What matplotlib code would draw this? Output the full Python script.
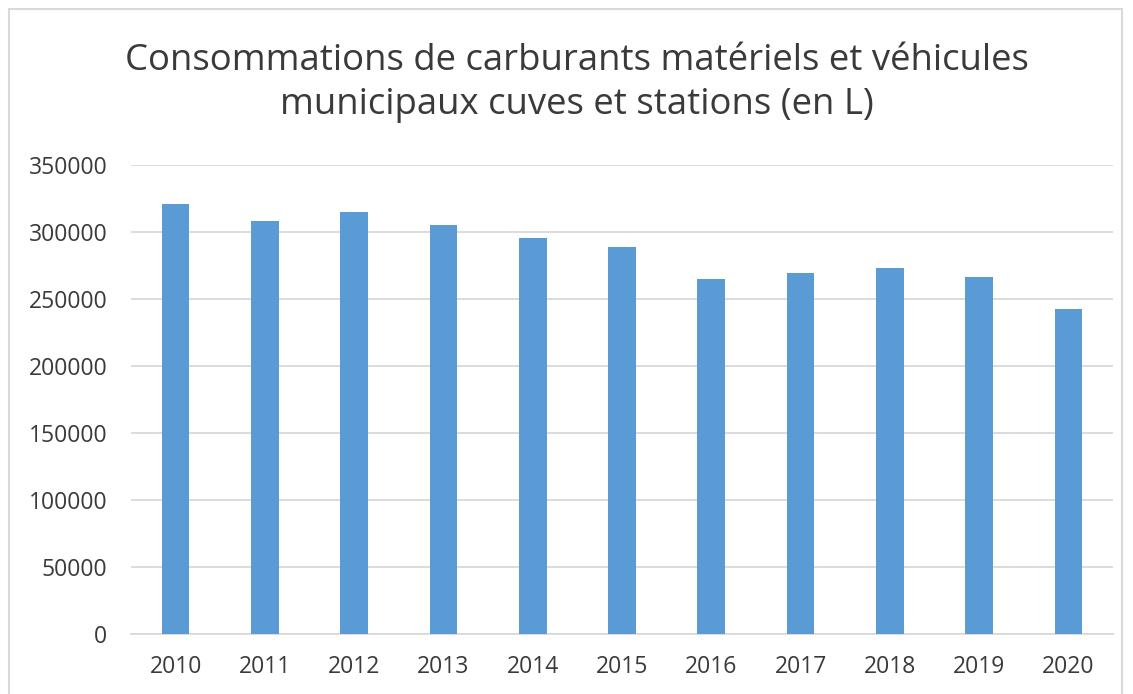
import matplotlib
matplotlib.use("Agg")
import matplotlib.pyplot as plt
from matplotlib.patches import Rectangle

years = ["2010", "2011", "2012", "2013", "2014", "2015", "2016", "2017", "2018", "2019", "2020"]
values = [321100, 308400, 314600, 305500, 295800, 289000, 265200, 269700, 273400, 266400, 242800]
yticks = [0, 50000, 100000, 150000, 200000, 250000, 300000, 350000]

W, H = 1133, 694
fig = plt.figure(figsize=(W / 100, H / 100), dpi=100)
plt.rcParams['font.family'] = ['Open Sans', 'DejaVu Sans']

# outer chart border
fig.patches.append(Rectangle((9 / W, -0.05), (1122 - 9) / W, 1.05 - 9 / H,
                             transform=fig.transFigure, fill=False,
                             edgecolor="#D9D9D9", linewidth=1.5))

left, right, bottom, top = 131, 1113, 634, 165
ax = fig.add_axes([left / W, 1 - bottom / H, (right - left) / W, (bottom - top) / H])

x = list(range(len(years)))
ax.bar(x, values, width=0.31, color="#5B9BD5", zorder=3)
ax.set_xlim(-0.5, len(years) - 0.5)
ax.set_ylim(0, 350000)
ax.set_yticks(yticks)
ax.set_yticklabels([str(v) for v in yticks])
ax.set_xticks(x)
ax.set_xticklabels(years)
ax.grid(axis="y", color="#D9D9D9", linewidth=1.3, zorder=0)
for s in ["top", "right", "left"]:
    ax.spines[s].set_visible(False)
ax.spines["bottom"].set_color("#D9D9D9")
ax.spines["bottom"].set_linewidth(1.3)
ax.tick_params(axis="both", length=0, labelsize=16.5, colors="#3A3A3A")
ax.tick_params(axis="y", pad=17)
ax.tick_params(axis="x", pad=15)

fig.text(577 / W, 1 - 83 / H, "Consommations de carburants matériels et véhicules\nmunicipaux cuves et stations (en L)",
         ha="center", va="center", fontsize=26.3, color="#3A3A3A", linespacing=1.3)

fig.savefig("out.png", dpi=100)
